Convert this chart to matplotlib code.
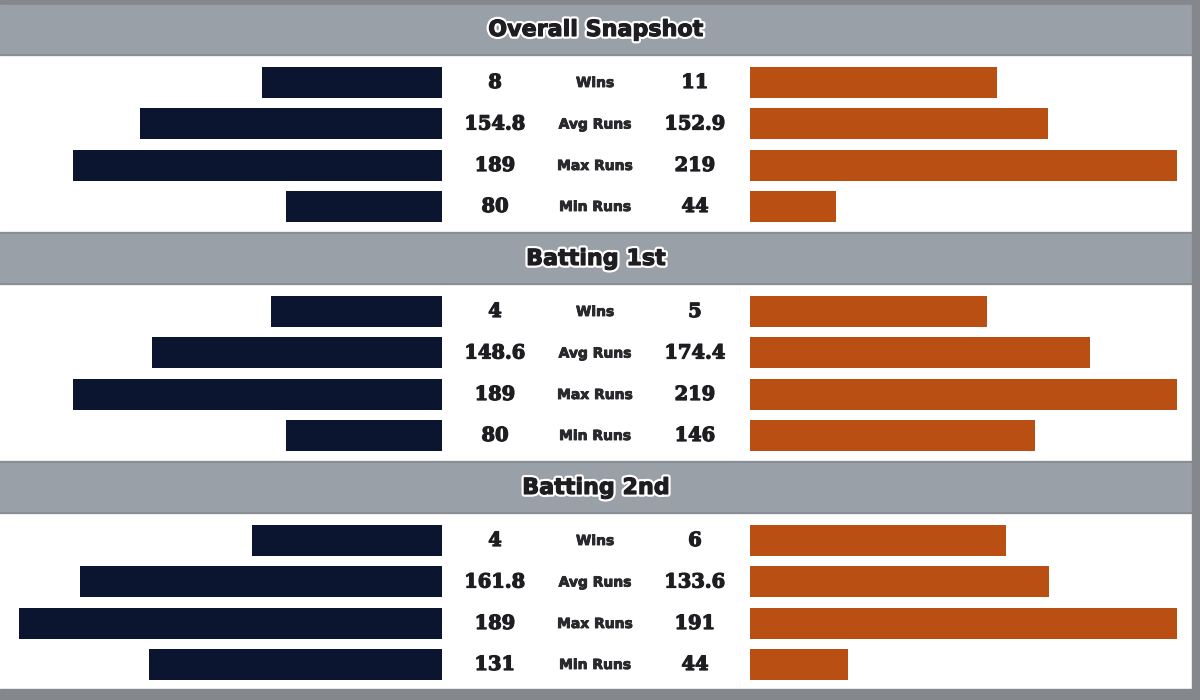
import matplotlib.pyplot as plt
import matplotlib.patheffects as pe
import numpy as np

sections = ["Overall Snapshot", "Batting 1st", "Batting 2nd"]
metrics = ["Wins", "Avg Runs", "Max Runs", "Min Runs"]

# values shown as text, per section: wins, avg, max, min
left_vals = [[8, 154.8, 189, 80], [4, 148.6, 189, 80], [4, 161.8, 189, 131]]
right_vals = [[11, 152.9, 219, 44], [5, 174.4, 219, 146], [6, 133.6, 191, 44]]
left_labels = [["8", "154.8", "189", "80"], ["4", "148.6", "189", "80"], ["4", "161.8", "189", "131"]]
right_labels = [["11", "152.9", "219", "44"], ["5", "174.4", "219", "146"], ["6", "133.6", "191", "44"]]
# matches played, win bars drawn as win percentage
left_matches = [19, 10, 9]
right_matches = [19, 9, 10]

navy = "#0c1530"
orange = "#b94f12"
header_col = "#9aa0a8"
border_col = "#84878b"
text_col = "#1e1e22"

fig = plt.figure(figsize=(12, 7), dpi=100)
fig.patch.set_facecolor("white")
ax = fig.add_axes([0, 0, 1, 1])
ax.set_xlim(0, 1200)
ax.set_ylim(700, 0)
ax.axis("off")

# outer frame
ax.axhspan(0, 3, color=border_col, zorder=5)
ax.axhspan(689, 700, color=border_col, zorder=5)
ax.axvspan(1192, 1200, color=border_col, zorder=5)


def heavy(halo_w, core_w):
    return [pe.Stroke(linewidth=halo_w, foreground="white"),
            pe.Stroke(linewidth=core_w, foreground=text_col), pe.Normal()]


left_x = 442
right_x = 750
full = 427
sec_top = [3, 232, 461]
row_off = [79, 120.5, 162, 203]

for s, title in enumerate(sections):
    top = sec_top[s]
    ax.axhspan(top, top + 52, color=header_col, zorder=1)
    ax.axhline(top + 0.5, color="#868a90", lw=1.2, zorder=2)
    ax.axhline(top + 52, color="#868a90", lw=1.2, zorder=2)
    ax.text(596, top + 27, title, ha="center", va="center", fontsize=16,
            fontweight="heavy", color=text_col, path_effects=heavy(4, 0.8), zorder=3)

    run_max = max(max(left_vals[s][1:]), max(right_vals[s][1:]))
    lv = [left_vals[s][0] / left_matches[s] * 100] + [v / run_max * 100 for v in left_vals[s][1:]]
    rv = [right_vals[s][0] / right_matches[s] * 100] + [v / run_max * 100 for v in right_vals[s][1:]]
    lv = np.array(lv) / 100 * full
    rv = np.array(rv) / 100 * full
    ys = [top + o for o in row_off]

    ax.barh(ys, lv, left=left_x - lv, height=31, color=navy, zorder=2)
    ax.barh(ys, rv, left=right_x, height=31, color=orange, zorder=2)

    for i, y in enumerate(ys):
        ax.text(495, y + 1, left_labels[s][i], ha="center", va="center", fontsize=14,
                fontweight="bold", family="DejaVu Serif", color=text_col,
                path_effects=heavy(3.5, 0.9), zorder=3)
        ax.text(695, y + 1, right_labels[s][i], ha="center", va="center", fontsize=14,
                fontweight="bold", family="DejaVu Serif", color=text_col,
                path_effects=heavy(3.5, 0.9), zorder=3)
        ax.text(595, y + 1, metrics[i], ha="center", va="center", fontsize=10,
                fontweight="bold", color="#2a2a2e", path_effects=heavy(3, 0.6), zorder=3)

fig.savefig("out.png", dpi=100)
